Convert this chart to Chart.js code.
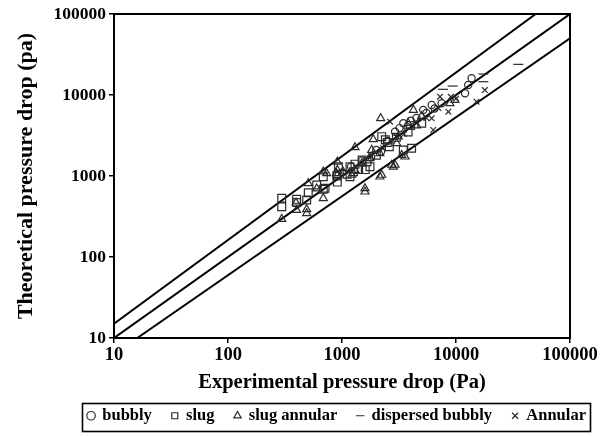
<!DOCTYPE html>
<html>
<head>
<meta charset="utf-8">
<script src="https://cdn.jsdelivr.net/npm/chart.js@4"></script>
<style>
html,body{margin:0;padding:0;background:#fff;}
#wrap{width:608px;height:436px;}
</style>
</head>
<body>
<div id="wrap"><canvas id="c" width="608" height="436"></canvas></div>
<script>
// ---- data ----
const tickValues = [10, 100, 1000, 10000, 100000];

const bubblyX = [1000,1200,1500,1800,2000,2200,2500,2920,3200,3450,4000,4500,5160,5500,6120,6500,7480,12000,12800,13700];
const bubblyY = [1100,1300,1550,1700,2100,2000,2700,3520,3900,4480,4800,5200,6530,6000,7530,6800,7900,10500,13300,16070];

const slugX = [296,296,400,400,506,490,600,685,710,685,900,910,930,1106,1175,1260,1175,1300,1400,1500,1655,1760,1600,2000,2230,2400,2500,2600,3000,3450,3800,4080,4000,5000];
const slugY = [531,418,515,470,622,506,775,685,705,980,1000,840,1300,1050,1300,1130,980,1400,1200,1577,1500,1300,1200,1800,3060,2800,2600,2300,3000,2095,3500,2200,4200,4480];

const slugAnnX = [296,400,490,490,395,506,600,685,685,733,910,910,910,895,1020,1220,1300,1300,1490,1590,1590,1760,1820,1880,2150,2150,2185,2230,2730,2820,2920,3020,3120,3340,3570,3800,4230,4500,5000,8850,9770];
const slugAnnY = [294,380,388,347,468,810,700,531,1130,1080,1500,1186,1028,1080,1130,1030,2260,1186,1420,640,705,1650,2095,2840,980,1900,5150,1030,1370,1300,1370,2530,3060,1810,1730,4500,6530,4200,5500,7900,8670];

const dispX = [7690,9350,17400,17400,35200];
const dispY = [11750,12900,18150,14600,23900];

const annularX = [1800,2300,2640,3000,3500,4500,5500,6120,6310,7000,7240,8570,9000,10000,15140,17900];
const annularY = [1750,2200,4680,3100,3300,4600,5200,5150,3700,6900,9530,6220,9500,9000,8270,11500];

// reference lines (end points)
const upperLineX = [10, 50000];
const upperLineY = [15, 100000];
const equalLineX = [10, 100000];
const equalLineY = [10, 100000];
const lowerLineX = [16, 100000];
const lowerLineY = [10, 50000];

const seriesNames = ['bubbly','slug','slug annular','dispersed bubbly','Annular'];

const pts = (xs, ys) => xs.map((x, i) => ({x: x, y: ys[i]}));
const markColor = '#2a2a2a';
const serif = "'Liberation Serif','Times New Roman',serif";
const PLOT_BOTTOM = 338;

function pointSet(label, xs, ys, style, radius) {
  return {
    type: 'scatter', label: label, data: pts(xs, ys),
    pointStyle: style, pointRadius: radius, pointHoverRadius: radius,
    borderColor: markColor, backgroundColor: 'rgba(0,0,0,0)', borderWidth: 1.2,
    showLine: false
  };
}
function refLine(xs, ys) {
  return {
    type: 'line', label: '_ref', data: pts(xs, ys),
    borderColor: '#000', borderWidth: 2, pointRadius: 0, fill: false, tension: 0
  };
}

const framePlugin = {
  id: 'frame',
  afterLayout(chart) {
    // shift the legend so that it is placed like in the reference
    const lg = chart.legend;
    if (lg) { lg.left += 52; lg.right += 52; lg.top -= 2; lg.bottom -= 2; }
  },
  afterDraw(chart) {
    const a = chart.chartArea, ctx = chart.ctx;
    ctx.save();
    ctx.strokeStyle = '#000';
    ctx.lineWidth = 2;
    ctx.strokeRect(a.left, a.top, a.right - a.left, a.bottom - a.top);
    // legend border
    const lg = chart.legend;
    if (lg && lg.legendHitBoxes && lg.legendHitBoxes.length) {
      let minX = Infinity, maxX = -Infinity, minY = Infinity, maxY = -Infinity;
      lg.legendHitBoxes.forEach(h => {
        minX = Math.min(minX, h.left); maxX = Math.max(maxX, h.left + h.width);
        minY = Math.min(minY, h.top); maxY = Math.max(maxY, h.top + h.height);
      });
      ctx.lineWidth = 1.6;
      ctx.strokeRect(Math.round(minX - 6) + 0.5, Math.round(minY - 5) + 0.5, Math.round(maxX - minX + 10), Math.round(maxY - minY + 11));
    }
    ctx.restore();
  }
};

const logTicks = (scale) => { scale.ticks = tickValues.map(v => ({value: v})); };

new Chart(document.getElementById('c'), {
  data: {
    datasets: [
      pointSet(seriesNames[0], bubblyX, bubblyY, 'circle', 3.6),
      pointSet(seriesNames[1], slugX, slugY, 'rect', 5.5),
      pointSet(seriesNames[2], slugAnnX, slugAnnY, 'triangle', 4.6),
      pointSet(seriesNames[3], dispX, dispY, 'line', 5),
      pointSet(seriesNames[4], annularX, annularY, 'crossRot', 4),
      refLine(upperLineX, upperLineY),
      refLine(equalLineX, equalLineY),
      refLine(lowerLineX, lowerLineY)
    ]
  },
  options: {
    responsive: false,
    animation: false,
    devicePixelRatio: 1,
    layout: { padding: { left: 0, right: 38, top: 14, bottom: 0 } },
    scales: {
      x: {
        type: 'logarithmic', min: 10, max: 100000,
        afterBuildTicks: logTicks,
        afterFit: (s) => { s.height = 436 - PLOT_BOTTOM - s.chart.legend.height; },
        ticks: { color: '#000', font: { family: serif, size: 18.5, weight: 'bold' }, padding: 1, maxRotation: 0, autoSkip: false, callback: (v) => String(v) },
        grid: { drawOnChartArea: false, drawTicks: true, tickLength: 5, color: '#000', lineWidth: 1.5 },
        border: { display: true, color: '#000', width: 2 },
        title: { display: true, text: 'Experimental pressure drop (Pa)', color: '#000', font: { family: serif, size: 20.5, weight: 'bold' }, padding: { top: 0, bottom: -6 } }
      },
      y: {
        type: 'logarithmic', min: 10, max: 100000,
        afterBuildTicks: logTicks,
        afterFit: (s) => { s.width = 114; },
        ticks: { color: '#000', font: { family: serif, size: 17.5, weight: 'bold' }, padding: 3, autoSkip: false, callback: (v) => String(v) },
        grid: { drawOnChartArea: false, drawTicks: true, tickLength: 5, color: '#000', lineWidth: 1.5 },
        border: { display: true, color: '#000', width: 2 },
        title: { display: true, text: 'Theoretical pressure drop (pa)', color: '#000', font: { family: serif, size: 22, weight: 'bold' }, padding: { top: 13, bottom: 0 } }
      }
    },
    plugins: {
      tooltip: { enabled: false },
      legend: {
        position: 'bottom',
        labels: {
          usePointStyle: true, boxWidth: 6, boxHeight: 6, padding: 20,
          color: '#000', font: { family: serif, size: 16.5, weight: 'bold' },
          filter: (item) => item.text !== '_ref'
        }
      }
    }
  },
  plugins: [framePlugin]
});
</script>
</body>
</html>
